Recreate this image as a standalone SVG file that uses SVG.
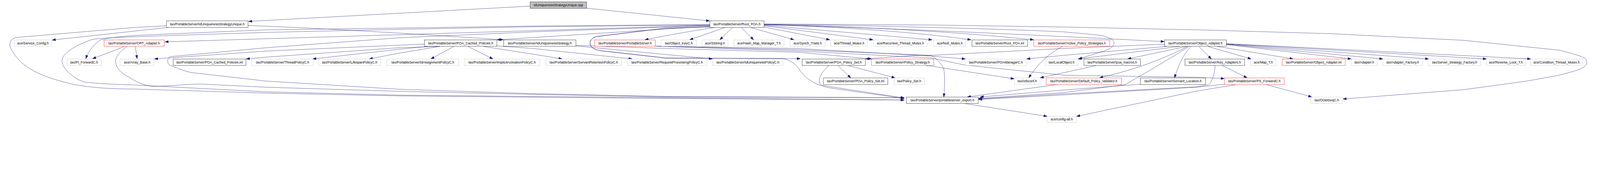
<svg xmlns="http://www.w3.org/2000/svg" width="6257" height="485" viewBox="0 0 6257 485" preserveAspectRatio="xMinYMin meet">
<style>
svg{width:100vw;height:100vh}
rect{fill:#fff;stroke-width:1}
.k rect{stroke:#000}
.g rect{stroke:#bfbfbf}
.r rect{stroke:#ff0000}
.root rect{fill:#bfbfbf;stroke:#000}
text{font-family:"Liberation Sans",Arial,sans-serif;font-size:13px;text-anchor:middle;fill:#000}
#edges path{fill:none;stroke:#191970;stroke-width:1;marker-end:url(#a)}
</style>
<defs>
<marker id="a" markerUnits="userSpaceOnUse" markerWidth="14" markerHeight="10" refX="13" refY="4.5" orient="auto" overflow="visible"><path d="M0,0 L13,4.5 L0,9 z" fill="#191970" stroke="#191970" stroke-width="1"/></marker>
</defs>
<rect x="0" y="0" width="6257" height="485" style="fill:#fff;stroke:none"/>
<g id="edges">
<path d="M2073,24 L972,84"/>
<path d="M2294,32 L2775,82"/>
<path d="M970,100 C1300,112 1700,138 1968,156"/>
<path d="M663,107 L204,157"/>
<path d="M651,101 L523,108 L62,147 C32,157 35,180 48,200 C85,262 150,300 293,332 C400,350 480,348 523,349 L1043,365 L1563,376 L2083,381 L2603,386 L3536,392"/>
<path d="M2776,96 L2083,102 L1563,110 L1040,117 L523,139 C450,145 420,150 393,156 C370,172 345,200 336,230"/>
<path d="M2776,98 L2083,105 L1563,115 L1040,127 L523,144 C430,148 385,150 360,155 C310,172 265,195 245,225 C238,245 248,262 262,278 C285,300 305,315 333,322 C400,330 480,331 523,333 L1043,360 L1563,373 L2083,378 L2603,383 L3536,392"/>
<path d="M485,182 C455,196 420,208 362,230"/>
<path d="M529,182 C532,200 534,215 536,230"/>
<path d="M497,182 C470,200 453,220 452,240 C452,262 470,285 500,300 C530,320 560,335 600,339 C700,335 750,328 797,330 L1043,342 L1563,358 L2083,370 L2603,380 L3536,383"/>
<path d="M2776,99 L645,164"/>
<path d="M2776,100 L2083,125 L1563,148 L1043,187 L667,222 C652,228 652,250 667,257 C700,270 730,282 753,285 L1043,318 L1563,350 L2083,367 L2603,378 L3536,383"/>
<path d="M2776,103 L1944,156"/>
<path d="M2800,107 C2700,122 2600,140 2522,156"/>
<path d="M2776,104 L2603,110 L2330,143 C2312,150 2303,165 2309,178 C2315,190 2330,195 2347,198 L2603,227 L3130,230"/>
<path d="M2776,106 L2603,111 L2330,144 C2312,151 2304,165 2310,178 C2316,190 2331,196 2348,199 L2603,228 L3060,229 C3090,235 3110,250 3123,268 C3140,295 3160,315 3203,333 L3536,384"/>
<path d="M2837,107 L2697,156"/>
<path d="M2865,107 L2815,156"/>
<path d="M2898,107 L2947,156"/>
<path d="M2933,107 L3105,156"/>
<path d="M2988,106 L3245,156"/>
<path d="M2988,101 L3414,156"/>
<path d="M2988,99 L3645,156"/>
<path d="M2988,97 C3300,105 3600,128 3797,156"/>
<path d="M2988,96 C3400,104 3800,130 4042,156"/>
<path d="M2988,97 C3500,110 4100,140 4553,163"/>
<path d="M2988,95 C3300,98 3900,112 4160,125 C4250,133 4290,136 4310,140 C4340,147 4357,158 4357,167 C4357,180 4340,195 4310,202 L4218,231"/>
<path d="M2988,94 L3640,98 L4163,106 L4683,117 L5203,132 L5723,158 L6100,197 C6170,215 6200,225 6203,235 C6208,248 6205,255 6195,262 C6180,270 6170,275 6163,277 L6097,295 L5970,318 L5720,352 L5252,388"/>
<path d="M1660,173 L1563,177 L1043,200 L604,231"/>
<path d="M1720,182 L1563,187 L1040,224 L963,231"/>
<path d="M1672,182 L1563,193 L1223,231"/>
<path d="M1720,182 L1563,208 L1444,231"/>
<path d="M1775,182 L1685,231"/>
<path d="M1830,182 L1928,231"/>
<path d="M1890,182 L2083,212 L2198,231"/>
<path d="M1943,180 L2083,190 L2472,231"/>
<path d="M2252,180 L2786,231"/>
<path d="M2252,178 L2603,190 L3123,205 L3408,231"/>
<path d="M2563,181 L3120,190 L3643,220 L3775,231"/>
<path d="M2563,181 L3120,195 L3640,217 C3660,225 3680,250 3690,267 C3695,290 3695,330 3691,380"/>
<path d="M2563,181 L3120,200 L3640,227 L3773,255 L4163,295 L4683,303 L4788,308"/>
<path d="M3277,257 C3290,270 3310,290 3327,305"/>
<path d="M3317,257 L3500,305"/>
<path d="M3242,257 C3215,280 3200,305 3205,325 C3212,340 3230,342 3260,347 L3536,386"/>
<path d="M3620,257 L3640,259 L3966,309"/>
<path d="M4554,173 L4160,190 L3643,217 L3567,218 L3385,231"/>
<path d="M4563,182 L4160,217 L4015,231"/>
<path d="M4613,182 L4216,231"/>
<path d="M4640,182 L4410,231"/>
<path d="M4645,182 C4560,225 4460,268 4300,305"/>
<path d="M4650,182 C4560,240 4480,285 4400,332 L4160,363 L3827,386"/>
<path d="M4658,182 C4630,210 4610,250 4593,305"/>
<path d="M4688,182 L4737,231"/>
<path d="M4723,182 L4893,231"/>
<path d="M4760,182 L5057,231"/>
<path d="M4796,175 L5284,231"/>
<path d="M4796,174 L5408,231"/>
<path d="M4796,173 L5587,231"/>
<path d="M4796,172 L5813,231"/>
<path d="M4796,171 L5986,231"/>
<path d="M4780,257 L4877,305"/>
<path d="M4752,257 C4750,290 4740,320 4727,332 L4680,340 L4160,368 L3827,388"/>
<path d="M4460,330 L4160,353 L3833,380"/>
<path d="M4789,330 L4680,342 L4160,372 L3827,390"/>
<path d="M4833,332 L4680,357 L4210,456"/>
<path d="M4953,332 L5130,380"/>
<path d="M4137,331 L3783,380"/>
<path d="M4287,257 L4160,285 L4068,305"/>
<path d="M4155,182 C4100,210 4057,253 4023,305"/>
<path d="M3773,406 L4095,456"/>
</g>
<g id="n0" class="root"><rect x="2073" y="7.5" width="221" height="25"/><text x="2183.5" y="25">IdUniquenessStrategyUnique.cpp</text></g>
<g id="n1" class="k"><rect x="651" y="81.5" width="319" height="26"/><text x="810.5" y="99">tao/PortableServer/IdUniquenessStrategyUnique.h</text></g>
<g id="n2" class="k"><rect x="2776" y="81.5" width="212" height="26"/><text x="2882" y="99">tao/PortableServer/Root_POA.h</text></g>
<g id="n3" class="g"><rect x="56" y="156.5" width="146" height="25"/><text x="129" y="173.5">ace/Service_Config.h</text></g>
<g id="n4" class="r"><rect x="407" y="156.5" width="235" height="25"/><text x="524.5" y="173.5">tao/PortableServer/ORT_Adapter.h</text></g>
<g id="n5" class="k"><rect x="1660" y="156.5" width="283" height="25"/><text x="1801.5" y="173.5">tao/PortableServer/POA_Cached_Policies.h</text></g>
<g id="n6" class="k"><rect x="1970" y="156.5" width="282" height="25"/><text x="2111" y="173.5">tao/PortableServer/IdUniquenessStrategy.h</text></g>
<g id="n7" class="r"><rect x="2326" y="156.5" width="237" height="25"/><text x="2444.5" y="173.5">tao/PortableServer/PortableServer.h</text></g>
<g id="n8" class="g"><rect x="2586" y="156.5" width="137" height="25"/><text x="2654.5" y="173.5">tao/Object_KeyC.h</text></g>
<g id="n9" class="g"><rect x="2745" y="156.5" width="102" height="25"/><text x="2796" y="173.5">ace/SString.h</text></g>
<g id="n10" class="g"><rect x="2870" y="156.5" width="196" height="25"/><text x="2968" y="173.5">ace/Hash_Map_Manager_T.h</text></g>
<g id="n11" class="g"><rect x="3090" y="156.5" width="137" height="25"/><text x="3158.5" y="173.5">ace/Synch_Traits.h</text></g>
<g id="n12" class="g"><rect x="3249" y="156.5" width="143" height="25"/><text x="3320.5" y="173.5">ace/Thread_Mutex.h</text></g>
<g id="n13" class="g"><rect x="3416" y="156.5" width="210" height="25"/><text x="3521" y="173.5">ace/Recursive_Thread_Mutex.h</text></g>
<g id="n14" class="g"><rect x="3652" y="156.5" width="125" height="25"/><text x="3714.5" y="173.5">ace/Null_Mutex.h</text></g>
<g id="n15" class="k"><rect x="3801" y="156.5" width="218" height="25"/><text x="3910" y="173.5">tao/PortableServer/Root_POA.inl</text></g>
<g id="n16" class="r"><rect x="4043" y="156.5" width="297" height="25"/><text x="4191.5" y="173.5">tao/PortableServer/Active_Policy_Strategies.h</text></g>
<g id="n17" class="k"><rect x="4554" y="156.5" width="242" height="25"/><text x="4675" y="173.5">tao/PortableServer/Object_Adapter.h</text></g>
<g id="n18" class="g"><rect x="262" y="231.5" width="134" height="25"/><text x="329" y="248.5">tao/PI_ForwardC.h</text></g>
<g id="n19" class="g"><rect x="470" y="231.5" width="133" height="25"/><text x="536.5" y="248.5">ace/Array_Base.h</text></g>
<g id="n20" class="k"><rect x="677" y="231.5" width="285" height="25"/><text x="819.5" y="248.5">tao/PortableServer/POA_Cached_Policies.inl</text></g>
<g id="n21" class="g"><rect x="985" y="231.5" width="240" height="25"/><text x="1105" y="248.5">tao/PortableServer/ThreadPolicyC.h</text></g>
<g id="n22" class="g"><rect x="1246" y="231.5" width="243" height="25"/><text x="1367.5" y="248.5">tao/PortableServer/LifespanPolicyC.h</text></g>
<g id="n23" class="g"><rect x="1513" y="231.5" width="281" height="25"/><text x="1653.5" y="248.5">tao/PortableServer/IdAssignmentPolicyC.h</text></g>
<g id="n24" class="g"><rect x="1816" y="231.5" width="295" height="25"/><text x="1963.5" y="248.5">tao/PortableServer/ImplicitActivationPolicyC.h</text></g>
<g id="n25" class="g"><rect x="2135" y="231.5" width="296" height="25"/><text x="2283" y="248.5">tao/PortableServer/ServantRetentionPolicyC.h</text></g>
<g id="n26" class="g"><rect x="2454" y="231.5" width="310" height="25"/><text x="2609" y="248.5">tao/PortableServer/RequestProcessingPolicyC.h</text></g>
<g id="n27" class="g"><rect x="2787" y="231.5" width="275" height="25"/><text x="2924.5" y="248.5">tao/PortableServer/IdUniquenessPolicyC.h</text></g>
<g id="n28" class="k"><rect x="3137" y="231.5" width="247" height="25"/><text x="3260.5" y="248.5">tao/PortableServer/POA_Policy_Set.h</text></g>
<g id="n29" class="r"><rect x="3408" y="231.5" width="244" height="25"/><text x="3530" y="248.5">tao/PortableServer/Policy_Strategy.h</text></g>
<g id="n30" class="g"><rect x="3775" y="231.5" width="239" height="25"/><text x="3894.5" y="248.5">tao/PortableServer/POAManagerC.h</text></g>
<g id="n31" class="g"><rect x="4087" y="231.5" width="129" height="25"/><text x="4151.5" y="248.5">tao/LocalObject.h</text></g>
<g id="n32" class="k"><rect x="4239" y="231.5" width="221" height="25"/><text x="4349.5" y="248.5">tao/PortableServer/poa_macros.h</text></g>
<g id="n33" class="k"><rect x="4634" y="231.5" width="233" height="25"/><text x="4750.5" y="248.5">tao/PortableServer/Key_Adapters.h</text></g>
<g id="n34" class="g"><rect x="4891" y="231.5" width="99" height="25"/><text x="4940.5" y="248.5">ace/Map_T.h</text></g>
<g id="n35" class="r"><rect x="5014" y="231.5" width="247" height="25"/><text x="5137.5" y="248.5">tao/PortableServer/Object_Adapter.inl</text></g>
<g id="n36" class="g"><rect x="5284" y="231.5" width="102" height="25"/><text x="5335" y="248.5">tao/Adapter.h</text></g>
<g id="n37" class="g"><rect x="5408" y="231.5" width="155" height="25"/><text x="5485.5" y="248.5">tao/Adapter_Factory.h</text></g>
<g id="n38" class="g"><rect x="5587" y="231.5" width="203" height="25"/><text x="5688.5" y="248.5">tao/Server_Strategy_Factory.h</text></g>
<g id="n39" class="g"><rect x="5813" y="231.5" width="152" height="25"/><text x="5889" y="248.5">ace/Reverse_Lock_T.h</text></g>
<g id="n40" class="g"><rect x="5986" y="231.5" width="202" height="25"/><text x="6087" y="248.5">ace/Condition_Thread_Mutex.h</text></g>
<g id="n41" class="k"><rect x="3220" y="305.5" width="252" height="26"/><text x="3346" y="323">tao/PortableServer/POA_Policy_Set.inl</text></g>
<g id="n42" class="g"><rect x="3496" y="305.5" width="119" height="26"/><text x="3555.5" y="323">tao/Policy_Set.h</text></g>
<g id="n43" class="g"><rect x="3967" y="305.5" width="100" height="26"/><text x="4017" y="323">tao/orbconf.h</text></g>
<g id="n44" class="r"><rect x="4091" y="305.5" width="295" height="26"/><text x="4238.5" y="323">tao/PortableServer/Default_Policy_Validator.h</text></g>
<g id="n45" class="k"><rect x="4460" y="305.5" width="255" height="26"/><text x="4587.5" y="323">tao/PortableServer/Servant_Location.h</text></g>
<g id="n46" class="r"><rect x="4789" y="305.5" width="233" height="26"/><text x="4905.5" y="323">tao/PortableServer/PS_ForwardC.h</text></g>
<g id="n47" class="k"><rect x="3545" y="380.5" width="281" height="25"/><text x="3685.5" y="397.5">tao/PortableServer/portableserver_export.h</text></g>
<g id="n48" class="g"><rect x="5126" y="380.5" width="125" height="25"/><text x="5188.5" y="397.5">tao/OctetSeqC.h</text></g>
<g id="n49" class="g"><rect x="4095" y="455.5" width="114" height="25"/><text x="4152" y="472.5">ace/config-all.h</text></g>
</svg>
